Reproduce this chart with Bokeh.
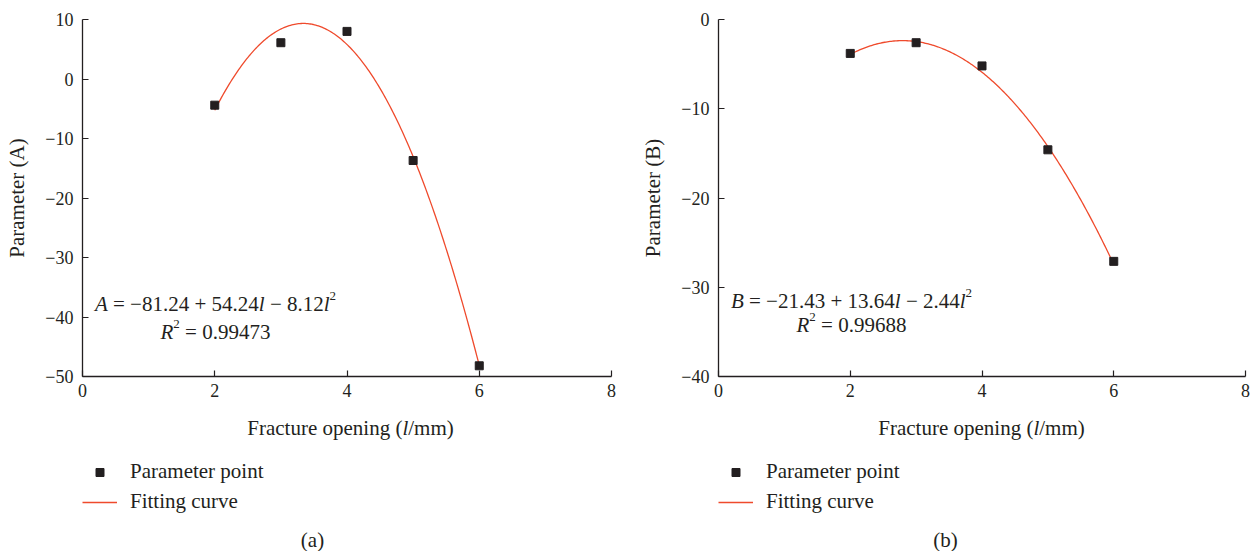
import numpy as np
from bokeh.plotting import figure
from bokeh.models import Range1d, Label, Legend, LegendItem, FixedTicker
from bokeh.layouts import row, column
from bokeh.embed import file_html
from bokeh.resources import INLINE

# ---------------- data ----------------
opening = [2, 3, 4, 5, 6]                       # fracture opening l (mm)
param_A = [-4.4, 6.1, 8.0, -13.7, -48.2]        # parameter A points
param_B = [-3.8, -2.6, -5.2, -14.6, -27.1]      # parameter B points
coef_A = [-81.24, 54.24, -8.12]                 # A = c0 + c1 l + c2 l^2
coef_B = [-21.43, 13.64, -2.44]                 # B = c0 + c1 l + c2 l^2
r2_A = "0.99473"
r2_B = "0.99688"
x_ticks = [0, 2, 4, 6, 8]
y_ticks_A = [-50, -40, -30, -20, -10, 0, 10]
y_ticks_B = [-40, -30, -20, -10, 0]
legend_labels = ["Parameter point", "Fitting curve"]

FONT = "Liberation Serif"
INK = "#231f20"
RED = "#ef4a2c"
TXT = "21px"
NB = "\u00a0"
TOP_H = 406
BOT_H = 551 - TOP_H
FRAME_H = 357
LEFT = 82

# Times / Liberation Serif advance widths (1/1000 em)
REG = {' ': 250, NB: 250, '(': 333, ')': 333, '/': 278, '+': 564, '=': 564,
       '.': 250, '\u2212': 564, 'F': 556, 'a': 444, 'c': 444, 'e': 444,
       'g': 500, 'i': 278, 'm': 778, 'n': 500, 'o': 500, 'p': 500, 'r': 333,
       't': 278, 'u': 500}
ITA = {'A': 611, 'B': 611, 'R': 611, 'l': 278}
SIZE = 21
SUP = 13


def run_width(text, style):
    size = SUP if style == "sup" else SIZE
    tot = 0
    for ch in text:
        if style == "it" and ch in ITA:
            tot += ITA[ch]
        else:
            tot += REG.get(ch, 500)
    return tot * size / 1000.0


def add_runs(p, runs, x, y, center, base):
    widths = [run_width(t, s) for t, s in runs]
    pos = center - sum(widths) / 2.0
    for (t, s), w in zip(runs, widths):
        lift = 8 if s == "sup" else 0
        p.add_layout(Label(x=x, y=y, x_offset=pos, y_offset=base + lift,
                           text=t, text_font=FONT, text_color=INK,
                           text_align="left", text_baseline="alphabetic",
                           text_font_size=(f"{SUP}px" if s == "sup" else TXT),
                           text_font_style=("italic" if s == "it" else "normal")))
        pos += w


def panel(width, right, ys, coefs, y_ticks, letter, r2, caption, f_base,
          r_base, title_cx, caption_cx):
    frame_w = width - LEFT - right
    p = figure(width=width, height=TOP_H, output_backend="svg",
               toolbar_location=None, x_range=Range1d(0, 8),
               y_range=Range1d(y_ticks[0], y_ticks[-1]),
               min_border_left=LEFT, min_border_right=right,
               min_border_top=19, min_border_bottom=TOP_H - 19 - FRAME_H)
    p.outline_line_color = None
    p.grid.visible = False

    for ax, ticks in ((p.xaxis[0], x_ticks), (p.yaxis[0], y_ticks)):
        ax.ticker = FixedTicker(ticks=ticks)
        ax.minor_tick_line_color = None
        ax.major_tick_in = 6
        ax.major_tick_out = 0
        ax.axis_line_color = INK
        ax.axis_line_width = 1.3
        ax.major_tick_line_color = INK
        ax.major_tick_line_width = 1.2
        ax.major_label_text_font = FONT
        ax.major_label_text_font_size = "18px"
        ax.major_label_text_color = INK
        ax.major_label_overrides = {
            t: (("\u2212" + str(abs(t))) if t < 0 else str(t)) for t in ticks}
    p.xaxis.major_label_standoff = 7
    p.yaxis.major_label_standoff = 9
    p.yaxis.axis_label = f"Parameter ({letter})"
    p.yaxis.axis_label_standoff = 13
    p.yaxis.axis_label_text_font = FONT
    p.yaxis.axis_label_text_font_size = TXT
    p.yaxis.axis_label_text_font_style = "normal"
    p.yaxis.axis_label_text_color = INK

    lx = np.linspace(opening[0], opening[-1], 200)
    ly = coefs[0] + coefs[1] * lx + coefs[2] * lx ** 2
    p.line(lx, ly, line_color=RED, line_width=1.3)
    p.scatter(opening, ys, marker="square", size=8, fill_color=INK,
              line_color=INK)

    c0, c1, c2 = coefs
    add_runs(p, [(letter, "it"),
                 (f"{NB}={NB}\u2212{abs(c0):.2f}{NB}+{NB}{c1:.2f}", "reg"),
                 ("l", "it"),
                 (f"{NB}\u2212{NB}{abs(c2):.2f}", "reg"), ("l", "it"),
                 ("2", "sup")],
             0, y_ticks[0], 133, f_base)
    add_runs(p, [("R", "it"), ("2", "sup"), (f"{NB}={NB}{r2}", "reg")],
             0, y_ticks[0], 133, r_base)

    # lower strip: axis title, legend, caption (offsets in pixels from the
    # strip's bottom edge)
    q = figure(width=width, height=BOT_H, output_backend="svg",
               toolbar_location=None,
               x_range=Range1d(LEFT, LEFT + frame_w),
               y_range=Range1d(0, BOT_H), x_axis_location=None,
               y_axis_location=None, min_border_left=LEFT,
               min_border_right=right, min_border_top=0, min_border_bottom=0)
    q.title.visible = False
    q.outline_line_color = None
    q.grid.visible = False
    add_runs(q, [("Fracture opening (", "reg"), ("l", "it"), ("/mm)", "reg")],
             0, 0, title_cx, 551 - 427)
    # legend renderers repeat the panel's series; they fall outside this
    # strip's visible range, so only their legend swatches show
    pts_swatch = q.scatter(opening, ys, marker="square", size=8,
                           fill_color=INK, line_color=INK)
    line_swatch = q.line(lx, ly, line_color=RED, line_width=1.3)
    legend = Legend(items=[LegendItem(label=legend_labels[0], renderers=[pts_swatch]),
                           LegendItem(label=legend_labels[1], renderers=[line_swatch])],
                    location=(0, 37), orientation="vertical",
                    background_fill_alpha=0, border_line_color=None,
                    padding=0, margin=0, spacing=5, glyph_width=35,
                    glyph_height=20, label_height=20, label_standoff=13,
                    label_text_font=FONT, label_text_font_size=TXT,
                    label_text_color=INK)
    q.add_layout(legend, "center")
    q.add_layout(Label(x=0, y=0, x_offset=caption_cx, y_offset=551 - 539,
                       text=caption, text_font=FONT,
                       text_font_size=TXT, text_color=INK,
                       text_align="center", text_baseline="alphabetic"))
    return column(p, q)


pa = panel(636, 25, param_A, coef_A, y_ticks_A, "A", r2_A, "(a)", 73, 45,
           350, 312)
pb = panel(622, 13, param_B, coef_B, y_ticks_B, "B", r2_B, "(b)", 76, 52,
           345, 309)
layout = row(pa, pb)

open("out.html", "w").write(file_html(layout, INLINE))
